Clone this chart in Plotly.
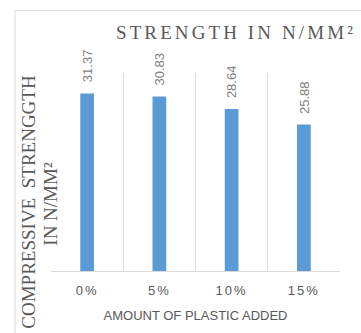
import plotly.graph_objects as go

categories = ["0%", "5%", "10%", "15%"]
strength = [31.37, 30.83, 28.64, 25.88]
labels = ["31.37", "30.83", "28.64", "25.88"]

W, H = 361, 333
L, R, T, B = 51, 21, 73, 60
pw, ph = W - L - R, H - T - B

def px(x):
    return (x - L) / pw

def py(y):
    return (H - B - y) / ph

fig = go.Figure()
fig.add_trace(go.Bar(
    x=categories, y=strength, width=0.19,
    marker=dict(color="#5B9BD5", line=dict(width=0)),
    hoverinfo="x+y",
))

fig.update_layout(
    width=W, height=H,
    margin=dict(l=L, r=R, t=T, b=B),
    paper_bgcolor="white", plot_bgcolor="white",
    showlegend=False,
    xaxis=dict(
        tickson="boundaries", showgrid=True, gridcolor="#d9d9d9", gridwidth=1,
        ticks="", showline=True, linecolor="#d9d9d9", linewidth=1,
        ticklabelstandoff=7,
        tickfont=dict(family="Liberation Sans", size=13, color="#595959"),
        title=dict(text="AMOUNT OF PLASTIC ADDED", standoff=14,
                   font=dict(family="Liberation Sans", size=13, color="#595959")),
    ),
    yaxis=dict(range=[0, 35], showgrid=False, showticklabels=False,
               zeroline=False, showline=False, ticks=""),
)

# chart frame
fig.add_shape(type="rect", xref="paper", yref="paper",
              x0=px(15), x1=px(380), y0=py(360), y1=py(10),
              line=dict(color="#d9d9d9", width=1), layer="below")

# chart title (annotation index 0)
fig.add_annotation(text="STRENGTH IN N/MM²", xref="paper", yref="paper",
                   x=px(114), y=py(32), xanchor="left", yanchor="middle",
                   align="left", showarrow=False,
                   font=dict(family="Liberation Serif", size=19, color="#595959"))

# y-axis title (two lines)
fig.add_annotation(text="COMPRESSIVE\u00a0 STRENGGTH", xref="paper", yref="paper",
                   x=px(29), y=py(203), xanchor="center", yanchor="middle",
                   textangle=-90, showarrow=False,
                   font=dict(family="Liberation Serif", size=19, color="#595959"))
fig.add_annotation(text="IN N/MM²", xref="paper", yref="paper",
                   x=px(51), y=py(205), xanchor="center", yanchor="middle",
                   textangle=-90, showarrow=False,
                   font=dict(family="Liberation Serif", size=19, color="#595959"))

# data labels
for c, v, t in zip(categories, strength, labels):
    fig.add_annotation(text=t, x=c, y=v, xref="x", yref="y",
                       xanchor="center", yanchor="bottom", yshift=9,
                       textangle=-90, showarrow=False,
                       font=dict(family="Liberation Sans", size=13, color="#7f7f7f"))

post = """
var s = document.createElement('style');
s.textContent = 'g.annotation[data-index="0"] text { letter-spacing: 3.1px; } .xtick text { letter-spacing: 2px; }';
document.head.appendChild(s);
"""

fig.write_html("out.html", post_script=post)
